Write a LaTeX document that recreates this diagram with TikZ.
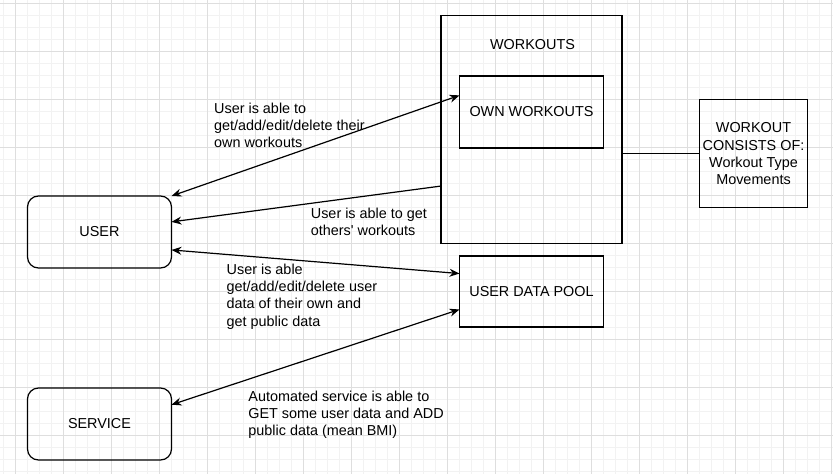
\documentclass[tikz,border=0pt]{standalone}
\usepackage{fontspec}
\setmainfont{Liberation Sans}
\usetikzlibrary{arrows.meta}
\definecolor{gridmajor}{HTML}{DEDEDE}
\definecolor{gridminor}{HTML}{F2F2F2}
\begin{document}
\begin{tikzpicture}
[x=1pt,y=-1pt,
  boxdecorate/.style={shape=rectangle,draw,line width=1.2pt,outer sep=0pt,inner sep=2pt,align=center,font=\fontsize{14.4}{17.3}\selectfont},
  roundboxdecorate/.style={boxdecorate,rounded corners=11pt},
  textdecorate/.style={anchor=north west,inner sep=0pt,align=left,font=\fontsize{14.4}{17.3}\selectfont},
  arrowdecorate/.style={->,>={Stealth[length=10pt,width=8pt]},line width=1.2pt},
  bothdecorate/.style={arrowdecorate,<->}]
\useasboundingbox (0,0) rectangle (833,474);
% background grid
\foreach \g in {3.3,15.3,...,833} \draw[gridminor,line width=0.8pt] (\g,0) -- (\g,474);
\foreach \g in {3.3,15.3,...,474} \draw[gridminor,line width=0.8pt] (0,\g) -- (833,\g);
\foreach \g in {15.3,63.3,...,833} \draw[gridmajor,line width=0.8pt] (\g,0) -- (\g,474);
\foreach \g in {3.3,51.3,...,474} \draw[gridmajor,line width=0.8pt] (0,\g) -- (833,\g);
% nodes or vertices
\node (user) at (99.5,232) [roundboxdecorate,minimum width=144pt,minimum height=72pt] {USER};
\node (service) at (99.5,424) [roundboxdecorate,minimum width=144pt,minimum height=72pt] {SERVICE};
\node (workouts) at (531.5,129.5) [boxdecorate,minimum width=181pt,minimum height=228pt] {};
\node (workoutstitle) at (532.5,45) [textdecorate,anchor=center] {WORKOUTS};
\node (own) at (531.5,112) [boxdecorate,minimum width=144pt,minimum height=72pt] {OWN WORKOUTS};
\node (consists) at (753.5,153.7) [boxdecorate,minimum width=108pt,minimum height=108pt] {WORKOUT\\CONSISTS OF:\\Workout Type\\Movements};
\node (pool) at (531.5,291.5) [boxdecorate,minimum width=144pt,minimum height=71pt] {USER DATA POOL};
% edge labels
\node (ownlabel) at (214,102.7) [textdecorate] {User is able to\\get/add/edit/delete their\\own workouts};
\node (otherslabel) at (310.7,207.7) [textdecorate] {User is able to get\\others\textquotesingle{} workouts};
\node (poollabel) at (226.5,263.5) [textdecorate] {User is able\\get/add/edit/delete user\\data of their own and\\get public data};
\node (servicelabel) at (248.2,390.5) [textdecorate] {Automated service is able to\\GET some user data and ADD\\public data (mean BMI)};
% edges or lines
\draw[bothdecorate] (user.north east) -- (own.167);
\draw[arrowdecorate] (workouts.212) -- (user.8);
\draw[bothdecorate] (user.-14) -- (pool.166);
\draw[bothdecorate] (service.15) -- (pool.194);
\draw[line width=1.2pt] (workouts.east |- consists.west) -- (consists.west);
\end{tikzpicture}
\end{document}
